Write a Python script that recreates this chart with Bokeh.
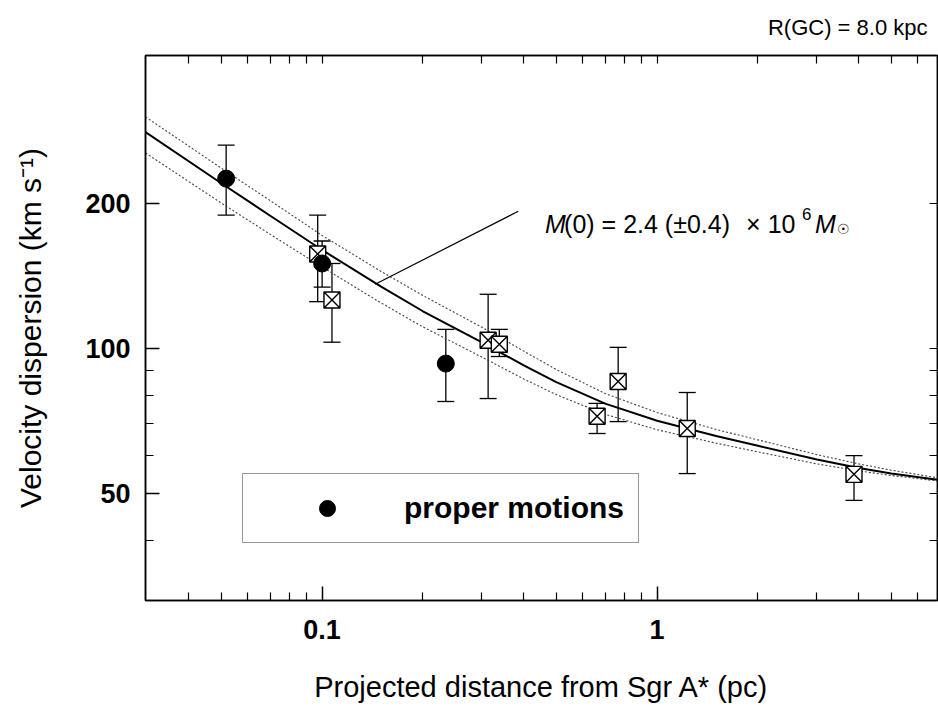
from bokeh.plotting import figure
from bokeh.models import (ColumnDataSource, Range1d, LogAxis, FixedTicker, Whisker, TeeHead,
                          Label, Legend, LegendItem, NumeralTickFormatter)
from bokeh.embed import file_html
from bokeh.resources import INLINE

# ---- data ----
# proper motions (filled circles)
pm_r = [0.0517, 0.100, 0.234]
pm_sigma = [225, 150, 93]
pm_lo = [189, 134, 77.6]
pm_hi = [264, 167, 109.5]

# radial-velocity bins (crossed squares)
rv_r = [0.097, 0.107, 0.313, 0.338, 0.662, 0.765, 1.23, 3.87]
rv_sigma = [157, 126, 104, 102, 72.3, 85.4, 68.2, 54.8]
rv_lo = [125, 103, 78.7, 96.2, 66.6, 70.5, 55.0, 48.4]
rv_hi = [189, 150, 129.5, 109.5, 76.9, 100.5, 81.0, 59.9]

# model curve M(0) = 2.4e6 Msun and its +/- 0.4 band
fit_r = [0.0297, 0.05, 0.07, 0.1, 0.15, 0.2, 0.3, 0.4, 0.5, 0.7, 1.0, 1.5, 2, 3, 4, 5, 6.87]
fit_sigma = [281, 220, 188.4, 160, 134.3, 119.4, 102.9, 92.2, 85.1, 76.8, 70.8, 65.8, 62.8,
             58.8, 56.5, 55.0, 53.4]
fit_upper = [302.1, 236.5, 202.5, 171.5, 144.4, 128.7, 110.6, 98.7, 90.4, 80.6, 73.6, 67.9,
             64.6, 60.2, 57.6, 55.9, 53.9]
fit_lower = [254.3, 200.2, 172.4, 147.5, 124.2, 110.8, 95.9, 86.4, 80.2, 73.0, 67.8, 63.6,
             61.0, 57.6, 55.7, 54.5, 53.1]

# leader line of the annotation
leader_r = [0.385, 0.144]
leader_sigma = [192.5, 135.8]
ann_r, ann_sigma = 0.463, 181.5

x_major = [0.1, 1]
x_minor = [0.04, 0.05, 0.06, 0.07, 0.08, 0.09, 0.2, 0.3, 0.4, 0.5, 0.6, 0.7, 0.8, 0.9, 2, 3, 4, 5, 6]
y_major = [50, 100, 200]
y_minor = [40, 60, 70, 80, 90]

X_MIN, X_MAX = 0.0297, 6.87
Y_MIN, Y_MAX = 30, 405

FONT = "Liberation Sans"

p = figure(width=938, height=710, x_axis_type="log", y_axis_type="log",
           x_range=Range1d(X_MIN, X_MAX), y_range=Range1d(Y_MIN, Y_MAX),
           output_backend="svg", toolbar_location=None,
           min_border_left=145, min_border_right=1, min_border_top=54, min_border_bottom=110)
p.xgrid.visible = False
p.ygrid.visible = False
p.outline_line_color = "black"
p.outline_line_width = 1.5
p.background_fill_color = "white"
p.border_fill_color = "white"

# title note R(GC) = 8.0 kpc
p.title.text = "R(GC) = 8.0 kpc"
p.title.align = "right"
p.title.vertical_align = "top"
p.title.text_font = FONT
p.title.text_font_size = "22px"
p.title.text_font_style = "normal"
p.title.text_color = "black"
p.title.offset = 10
p.title.standoff = 28

for ax in (p.xaxis[0], p.yaxis[0]):
    ax.axis_line_color = "black"
    ax.axis_line_width = 1.5
    ax.major_tick_line_color = "black"
    ax.major_tick_line_width = 1.5
    ax.minor_tick_line_color = "black"
    ax.minor_tick_line_width = 1.2
    ax.major_tick_in = 14
    ax.major_tick_out = 0
    ax.minor_tick_in = 8
    ax.minor_tick_out = 0
    ax.major_label_text_font = FONT
    ax.major_label_text_font_style = "bold"
    ax.major_label_text_font_size = "27px"
    ax.major_label_text_color = "black"
    ax.axis_label_text_font = FONT
    ax.axis_label_text_font_style = "normal"
    ax.axis_label_text_font_size = "29px"
    ax.axis_label_text_color = "black"
    ax.formatter = NumeralTickFormatter(format="0.[0]")

p.yaxis[0].axis_label_text_font_size = "30px"
p.xaxis[0].ticker = FixedTicker(ticks=x_major, minor_ticks=x_minor)
p.yaxis[0].ticker = FixedTicker(ticks=y_major, minor_ticks=y_minor)
p.xaxis[0].axis_label = "Projected distance from Sgr A* (pc)"
p.yaxis[0].axis_label = "Velocity dispersion (km s\u207b\u00b9)"
p.xaxis[0].major_label_standoff = 19
p.yaxis[0].major_label_standoff = 15
p.xaxis[0].axis_label_standoff = 29
p.yaxis[0].axis_label_standoff = 35

# mirrored tick marks on the top and right frame edges
top_ax = LogAxis(ticker=FixedTicker(ticks=[], minor_ticks=x_major + x_minor))
right_ax = LogAxis(ticker=FixedTicker(ticks=[], minor_ticks=y_major + y_minor))
for ax in (top_ax, right_ax):
    ax.axis_line_color = "black"
    ax.axis_line_width = 1.5
    ax.minor_tick_line_color = "black"
    ax.minor_tick_line_width = 1.2
    ax.minor_tick_in = 8
    ax.minor_tick_out = 0
    ax.major_tick_in = 0
    ax.major_tick_out = 0
p.add_layout(top_ax, "above")
p.add_layout(right_ax, "right")

# model curves
p.line(fit_r, fit_upper, line_color="#444444", line_width=1.1, line_dash="2 2")
p.line(fit_r, fit_lower, line_color="#444444", line_width=1.1, line_dash="2 2")
p.line(fit_r, fit_sigma, line_color="black", line_width=2)

# leader line
p.line(leader_r, leader_sigma, line_color="black", line_width=1.2)

# error bars
rv_src = ColumnDataSource(dict(r=rv_r, s=rv_sigma, lo=rv_lo, hi=rv_hi))
pm_src = ColumnDataSource(dict(r=pm_r, s=pm_sigma, lo=pm_lo, hi=pm_hi))
for src in (rv_src, pm_src):
    w = Whisker(source=src, base="r", lower="lo", upper="hi", dimension="height",
                line_color="black", line_width=1.3,
                lower_head=TeeHead(size=17, line_color="black", line_width=1.3),
                upper_head=TeeHead(size=17, line_color="black", line_width=1.3))
    w.level = "underlay"
    p.add_layout(w)

p.scatter("r", "s", source=rv_src, marker="square_x", size=16,
          fill_color="white", line_color="black", line_width=1.4)
pm_glyph = p.scatter("r", "s", source=pm_src, marker="circle", size=17,
                     fill_color="black", line_color="black")

# legend box
legend = Legend(items=[LegendItem(label="proper motions", renderers=[pm_glyph])],
                location=(97, 57), margin=0, padding=14, spacing=0,
                glyph_width=140, glyph_height=40, label_standoff=7,
                label_text_font=FONT, label_text_font_style="bold",
                label_text_font_size="30px", label_text_color="black",
                border_line_color="#333333", border_line_width=1.2,
                background_fill_color="white", background_fill_alpha=1.0)
p.add_layout(legend, "center")

# annotation M(0) = 2.4 (+-0.4) x 10^6 Msun
def add_text(txt, dx, dy=0, size="25px", style="normal"):
    p.add_layout(Label(x=ann_r, y=ann_sigma, text=txt, x_offset=dx, y_offset=dy,
                       text_font=FONT, text_font_size=size, text_font_style=style,
                       text_color="black", text_align="left", text_baseline="alphabetic"))

add_text("M", 0, style="italic")
add_text("(0) = 2.4 (\u00b10.4)", 19)
add_text("\u00d7 10", 201)
add_text("6", 257, dy=10, size="17px")
add_text("M", 270, style="italic")
add_text("\u2609", 292, dy=-5, size="14px")

open("out.html", "w").write(file_html(p, INLINE))
